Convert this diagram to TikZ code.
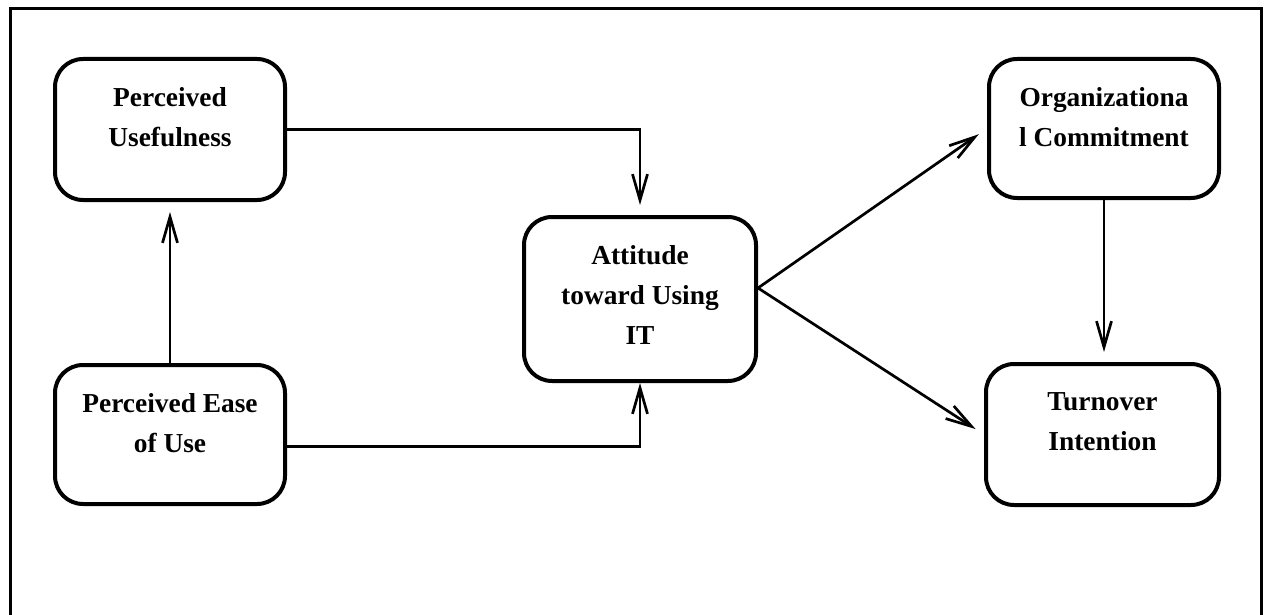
\documentclass[tikz,border=0pt]{standalone}
\usepackage{fontspec}
\setmainfont{Liberation Serif}
\usetikzlibrary{positioning,arrows.meta}

\begin{document}
\begin{tikzpicture}[x=1pt,y=-1pt,
	box/.style={draw, line width=4pt, rounded corners=28pt, inner sep=0pt},
	boxtext/.style={font=\bfseries\fontsize{27.4}{40}\selectfont, align=center, inner sep=0pt},
	link/.style={line width=2.7pt, -{Straight Barb[length=26pt,width=15pt]}}]

\pgfmathsetmacro{\boxw}{230}
\pgfmathsetmacro{\boxh}{141}
\pgfmathsetmacro{\textoff}{30}
\pgfmathsetmacro{\gap}{10}

\useasboundingbox (0,0) rectangle (1264,615);

% FRAME
\draw[line width=3pt] (10,615) -- (10,9) -- (1261,9) -- (1261,615);

% BOXES
%left column
\node(pu)[box, minimum width=\boxw pt, minimum height=\boxh pt] at (170,129.5) {};
\node[boxtext, below=\textoff pt of pu.north] {Perceived\\Usefulness};

\node(peou)[box, minimum width=\boxw pt, minimum height=139pt] at (170,434.5) {};
\node[boxtext, below=\textoff pt of peou.north] {Perceived Ease\\of Use};

%middle
\node(att)[box, minimum width=232pt, minimum height=164pt] at (640,299) {};
\node[boxtext, below=\textoff pt of att.north] {Attitude\\toward Using\\IT};

%right column
\node(oc)[box, minimum width=\boxw pt, minimum height=139pt] at (1104,128.5) {};
\node[boxtext, below=\textoff pt of oc.north] {Organizationa\\l Commitment};

\node(ti)[box, minimum width=233pt, minimum height=\boxh pt] at (1102.5,434.5) {};
\node[boxtext, below=\textoff pt of ti.north] {Turnover\\Intention};

% ARROWS
\coordinate (peouout) at ([yshift=-12pt]peou.east);
\coordinate (attout) at ([yshift=11pt]att.east);

\draw[link, shorten >=\gap pt] (peou.north) -- (pu.south);
\draw[link, shorten >=\gap pt] (pu.east) -| (att.north);
\draw[link] (peouout) -| (att.south);
\draw[link, shorten >=\gap pt] (attout) -- (oc.west);
\draw[link, shorten >=\gap pt] (attout) -- (ti.west);
\draw[link, shorten >=\gap pt] (oc.south) -- (oc.south |- ti.north);

\end{tikzpicture}
\end{document}
